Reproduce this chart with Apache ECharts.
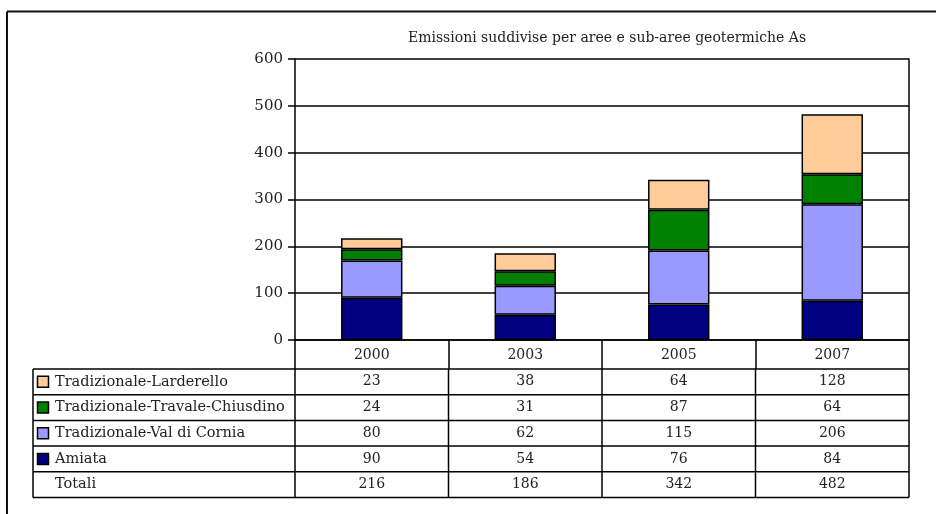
<!DOCTYPE html>
<html>
<head>
<meta charset="utf-8">
<script src="https://cdn.jsdelivr.net/npm/echarts@6.0.0/dist/echarts.min.js"></script>
<style>
  html, body { margin: 0; padding: 0; background: #fff; }
  #chart { width: 936px; height: 514px; }
</style>
</head>
<body>
<div id="chart"></div>
<script>
// ---- Data ----
const title = 'Emissioni suddivise per aree e sub-aree geotermiche As';
const years = ['2000', '2003', '2005', '2007'];
const larderello = [23, 38, 64, 128];
const travale = [24, 31, 87, 64];
const valCornia = [80, 62, 115, 206];
const amiata = [90, 54, 76, 84];
const totali = [216, 186, 342, 482];
const yTickLabels = ['0', '100', '200', '300', '400', '500', '600'];
const seriesNames = ['Tradizionale-Larderello', 'Tradizionale-Travale-Chiusdino', 'Tradizionale-Val di Cornia', 'Amiata'];
const totalLabel = 'Totali';

// ---- Styles ----
const FONT = 'DejaVu Serif';
const TXT = '#222';
const colorMap = {
  'Tradizionale-Larderello': '#FFCC99',
  'Tradizionale-Travale-Chiusdino': '#008000',
  'Tradizionale-Val di Cornia': '#9999FF',
  'Amiata': '#000080'
};
const valuesByName = {
  'Tradizionale-Larderello': larderello,
  'Tradizionale-Travale-Chiusdino': travale,
  'Tradizionale-Val di Cornia': valCornia,
  'Amiata': amiata
};

const chart = echarts.init(document.getElementById('chart'), null, { renderer: 'canvas' });

// stacked bottom-to-top: Amiata, Val di Cornia, Travale, Larderello
const stackOrder = seriesNames.slice().reverse();
const yMax = Number(yTickLabels[yTickLabels.length - 1]);
const yStep = Number(yTickLabels[1]) - Number(yTickLabels[0]);

const option = {
  animation: false,
  backgroundColor: '#fff',
  title: {
    text: title,
    left: 602,
    top: 26,
    textAlign: 'center',
    textStyle: { fontFamily: FONT, fontSize: 14, fontWeight: 'normal', color: TXT }
  },
  grid: { left: 295, right: 27, top: 59, bottom: 174, containLabel: false },
  xAxis: {
    type: 'category',
    data: years,
    boundaryGap: true,
    axisLine: { show: true, lineStyle: { color: '#000', width: 1.5 } },
    axisTick: { show: true, interval: 0, alignWithLabel: false, length: 29, inside: false, lineStyle: { color: '#000', width: 1.5 } },
    axisLabel: { interval: 0, margin: 8, fontFamily: FONT, fontSize: 14, color: TXT },
    splitLine: { show: false }
  },
  yAxis: [{
    type: 'value',
    min: 0,
    max: yMax,
    interval: yStep,
    axisLine: { show: true, lineStyle: { color: '#000', width: 1.5 } },
    axisTick: { show: true, length: 7, lineStyle: { color: '#000', width: 1.5 } },
    axisLabel: { margin: 12, fontFamily: FONT, fontSize: 15, color: TXT },
    splitLine: { show: true, lineStyle: { color: '#000', width: 1.5 } }
  }, {
    type: 'value',
    position: 'right',
    min: 0,
    max: yMax,
    interval: yStep,
    axisLine: { show: true, lineStyle: { color: '#000', width: 1.5 } },
    axisTick: { show: false },
    axisLabel: { show: false },
    splitLine: { show: false }
  }],
  series: stackOrder.map(name => ({
    name: name,
    type: 'bar',
    stack: 'tot',
    barWidth: '40%',
    data: valuesByName[name],
    itemStyle: { color: colorMap[name], borderColor: '#000', borderWidth: 1.5 }
  }))
};

chart.setOption(option);

// ---- Data table below the axis (positions derived from the axes) ----
function buildTable() {
  const centers = years.map(y => chart.convertToPixel({ xAxisIndex: 0 }, y));
  const bandW = centers[1] - centers[0];
  const gLeft = centers[0] - bandW / 2;
  const gRight = centers[centers.length - 1] + bandW / 2;
  const yBase = chart.convertToPixel({ yAxisIndex: 0 }, 0);
  const headerH = 29;
  const rowH = 25.7;
  const tableLeft = 33;
  const bodyTop = yBase + headerH;
  const rows = seriesNames.map(n => ({ name: n, color: colorMap[n], values: valuesByName[n] }))
    .concat([{ name: totalLabel, color: null, values: totali }]);
  const bodyBottom = bodyTop + rows.length * rowH;
  const lineStyle = { stroke: '#000', lineWidth: 1.5 };
  const g = [];
  for (let i = 0; i <= rows.length; i++) {
    const y = bodyTop + i * rowH;
    g.push({ type: 'line', shape: { x1: tableLeft, y1: y, x2: gRight, y2: y }, style: lineStyle, silent: true });
  }
  const vx = [tableLeft, gLeft].concat(centers.map(c => c + bandW / 2));
  vx.forEach(x => {
    g.push({ type: 'line', shape: { x1: x, y1: bodyTop, x2: x, y2: bodyBottom }, style: lineStyle, silent: true });
  });
  rows.forEach((r, i) => {
    const cy = bodyTop + i * rowH + rowH / 2;
    if (r.color) {
      g.push({ type: 'rect', shape: { x: 37.5, y: cy - 5.5, width: 11, height: 11 },
        style: { fill: r.color, stroke: '#000', lineWidth: 1.5 }, silent: true });
    }
    g.push({ type: 'text', x: 55, y: cy, style: { text: r.name, fontFamily: FONT, fontSize: 14.5, fill: TXT, textVerticalAlign: 'middle', textAlign: 'left' }, silent: true });
    r.values.forEach((v, j) => {
      g.push({ type: 'text', x: centers[j], y: cy, style: { text: String(v), fontFamily: FONT, fontSize: 14, fill: TXT, textVerticalAlign: 'middle', textAlign: 'center' }, silent: true });
    });
  });
  g.push({ type: 'line', shape: { x1: 7, y1: 11.5, x2: 936, y2: 11.5 }, style: { stroke: '#111', lineWidth: 2 }, silent: true });
  g.push({ type: 'line', shape: { x1: 7, y1: 11.5, x2: 7, y2: 514 }, style: { stroke: '#111', lineWidth: 2 }, silent: true });
  chart.setOption({ graphic: g });
}
buildTable();
</script>
</body>
</html>
